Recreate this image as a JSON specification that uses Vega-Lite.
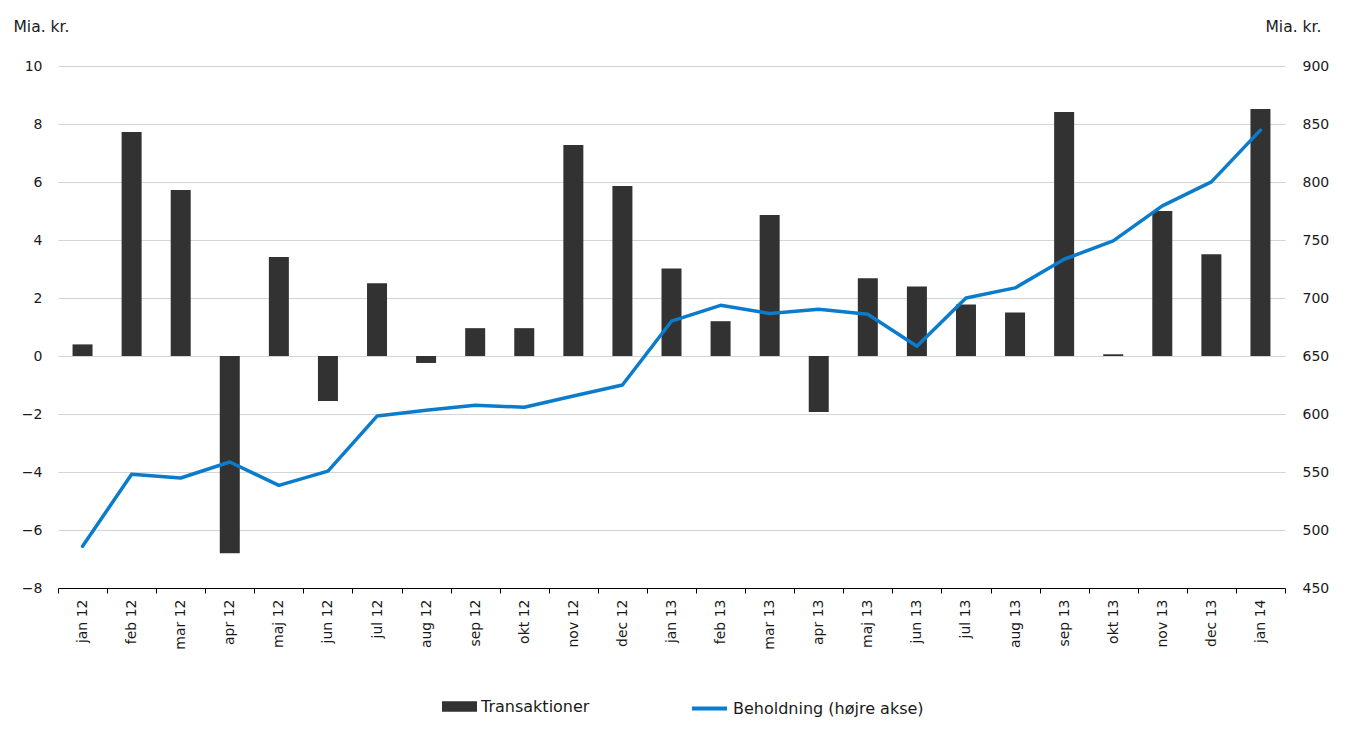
{
  "$schema": "https://vega.github.io/schema/vega-lite/v6.json",
  "width": 1227,
  "height": 522,
  "autosize": {"type": "none"},
  "padding": {"left": 58, "top": 66, "right": 65, "bottom": 154},
  "background": "white",
  "config": {
    "font": "DejaVu Sans",
    "view": {"stroke": null},
    "axis": {"labelColor": "#1a1a1a", "titleColor": "#1a1a1a", "labelFontSize": 14, "titleFontSize": 15.5, "titleFontWeight": "normal"}
  },
  "data": {
    "values": [
      {"month": "jan 12", "trans": 0.40, "behold": 486},
      {"month": "feb 12", "trans": 7.72, "behold": 548},
      {"month": "mar 12", "trans": 5.72, "behold": 544.8},
      {"month": "apr 12", "trans": -6.80, "behold": 558.6},
      {"month": "maj 12", "trans": 3.41, "behold": 538.5},
      {"month": "jun 12", "trans": -1.55, "behold": 550.8},
      {"month": "jul 12", "trans": 2.51, "behold": 598.2},
      {"month": "aug 12", "trans": -0.24, "behold": 603.2},
      {"month": "sep 12", "trans": 0.96, "behold": 607.5},
      {"month": "okt 12", "trans": 0.96, "behold": 605.8},
      {"month": "nov 12", "trans": 7.28, "behold": 615.5},
      {"month": "dec 12", "trans": 5.86, "behold": 625},
      {"month": "jan 13", "trans": 3.02, "behold": 680},
      {"month": "feb 13", "trans": 1.20, "behold": 693.7},
      {"month": "mar 13", "trans": 4.86, "behold": 686.6},
      {"month": "apr 13", "trans": -1.93, "behold": 690.3},
      {"month": "maj 13", "trans": 2.68, "behold": 686},
      {"month": "jun 13", "trans": 2.40, "behold": 658.4},
      {"month": "jul 13", "trans": 1.78, "behold": 700},
      {"month": "aug 13", "trans": 1.50, "behold": 708.7},
      {"month": "sep 13", "trans": 8.41, "behold": 733.4},
      {"month": "okt 13", "trans": 0.06, "behold": 749.2},
      {"month": "nov 13", "trans": 5.00, "behold": 779.4},
      {"month": "dec 13", "trans": 3.51, "behold": 800.1},
      {"month": "jan 14", "trans": 8.52, "behold": 844.7}
    ]
  },
  "encoding": {
    "x": {
      "field": "month",
      "type": "nominal",
      "sort": null,
      "scale": {"paddingInner": 0, "paddingOuter": 0},
      "axis": {
        "title": null,
        "labelAngle": 270,
        "tickBand": "extent",
        "tickSize": 5,
        "tickColor": "#000000",
        "domainColor": "#000000",
        "labelPadding": 6,
        "grid": false
      }
    }
  },
  "layer": [
    {
      "mark": {"type": "bar", "size": 20},
      "encoding": {
        "y": {
          "field": "trans",
          "type": "quantitative",
          "scale": {"domain": [-8, 10], "nice": false, "zero": false},
          "axis": {
            "values": [-8, -6, -4, -2, 0, 2, 4, 6, 8, 10],
            "title": "Mia. kr.",
            "titleAngle": 0,
            "titleAlign": "left",
            "titleBaseline": "alphabetic",
            "titleX": -45,
            "titleY": -35,
            "domain": false,
            "ticks": false,
            "labelPadding": 16,
            "grid": true,
            "gridColor": "#d4d4d4",
            "gridWidth": 1
          }
        },
        "fill": {
          "datum": "Transaktioner",
          "scale": {"range": ["#323232"]},
          "legend": {
            "title": null,
            "orient": "none",
            "legendX": 384,
            "legendY": 623,
            "symbolType": "M-1,-0.3H1V0.3H-1Z",
            "symbolSize": 1225,
            "symbolStrokeWidth": 0,
            "labelFontSize": 16,
            "labelLimit": 400,
            "labelColor": "#1a1a1a",
            "labelOffset": 4
          }
        }
      }
    },
    {
      "mark": {"type": "line", "strokeWidth": 3.5, "strokeCap": "round", "strokeJoin": "round"},
      "encoding": {
        "y": {
          "field": "behold",
          "type": "quantitative",
          "scale": {"domain": [450, 900], "nice": false, "zero": false},
          "axis": {
            "orient": "right",
            "values": [450, 500, 550, 600, 650, 700, 750, 800, 850, 900],
            "title": "Mia. kr.",
            "titleAngle": 0,
            "titleAlign": "left",
            "titleBaseline": "alphabetic",
            "titleX": -20,
            "titleY": -35,
            "domain": false,
            "ticks": false,
            "labelPadding": 17,
            "grid": false
          }
        },
        "stroke": {
          "datum": "Beholdning (højre akse)",
          "scale": {"range": ["#0b7bcc"]},
          "legend": {
            "title": null,
            "orient": "none",
            "legendX": 632,
            "legendY": 623,
            "symbolType": "stroke",
            "symbolSize": 1225,
            "symbolStrokeWidth": 4,
            "labelFontSize": 16,
            "labelLimit": 400,
            "labelColor": "#1a1a1a",
            "labelOffset": 4
          }
        }
      }
    }
  ],
  "resolve": {"scale": {"y": "independent"}}
}
